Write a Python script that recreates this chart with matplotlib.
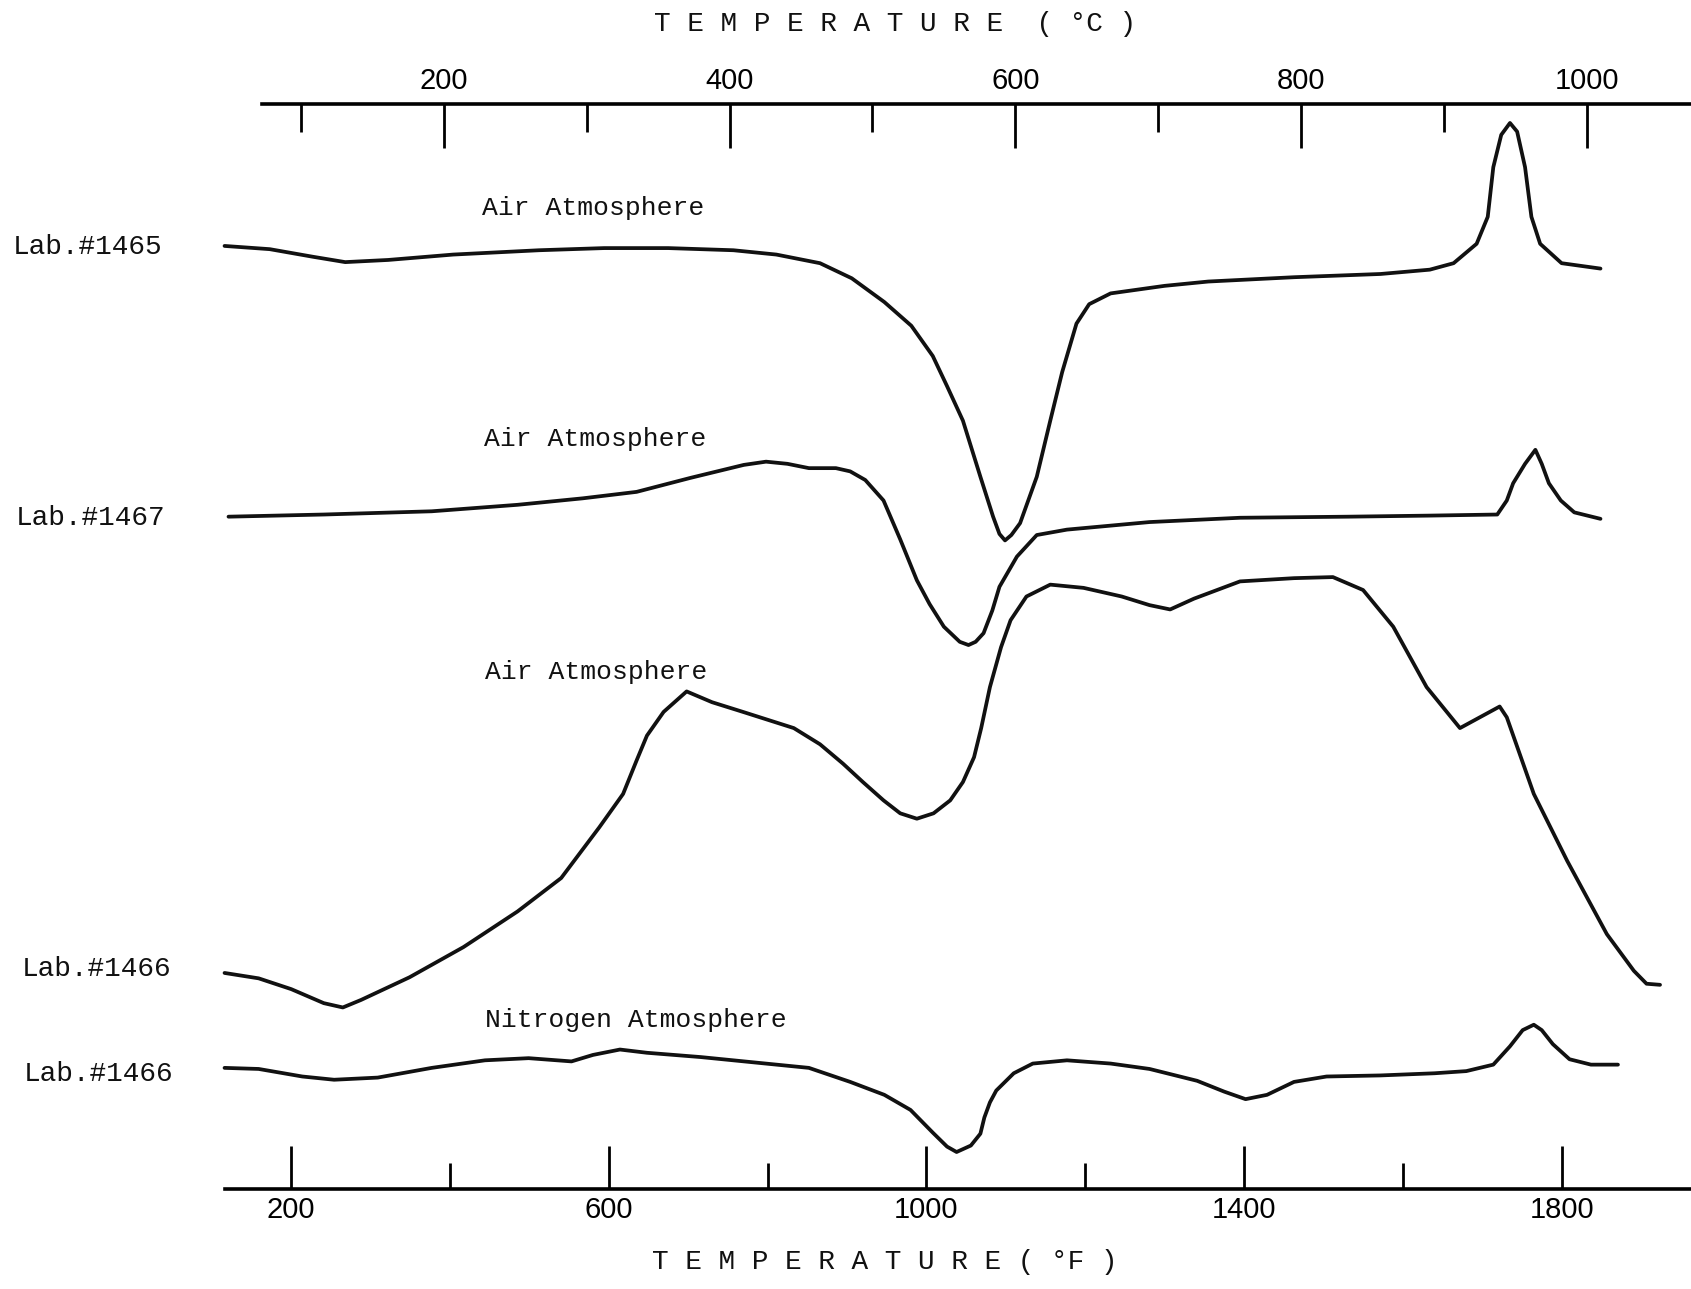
import numpy as np
import matplotlib
matplotlib.use("Agg")
from matplotlib import pyplot as plt

# DTA traces: furnace temperature in deg F, differential signal in chart units
# (positive = exothermic, upward)
temp_1465 = [116, 173, 227, 268, 322, 404, 512, 594, 675, 757,
             811, 866, 906, 947, 981, 1008, 1026, 1046, 1068, 1084,
             1092, 1099, 1107, 1118, 1139, 1156, 1171, 1189, 1205, 1232,
             1300, 1355, 1463, 1572, 1634, 1664, 1693, 1707, 1714, 1724,
             1735, 1744, 1754, 1762, 1773, 1800, 1849]
dta_1465 = [0, -3, -10, -15, -13, -8, -4, -2, -2, -4,
            -8, -16, -30, -52, -74, -102, -130, -162, -214, -251,
            -267, -273, -268, -257, -214, -162, -117, -72, -54, -44,
            -37, -33, -29, -26, -22, -16, 2, 27, 73, 103,
            114, 106, 73, 27, 2, -16, -21]

temp_1467 = [121, 241, 377, 485, 567, 635, 703, 770, 798, 825,
             852, 886, 904, 923, 946, 967, 988, 1004, 1022, 1042,
             1053, 1062, 1072, 1083, 1092, 1114, 1139, 1177, 1281, 1395,
             1531, 1634, 1719, 1731, 1739, 1754, 1767, 1775, 1784, 1799,
             1816, 1849]
dta_1467 = [0, 2, 5, 11, 17, 23, 36, 48, 51, 49,
            45, 45, 42, 34, 15, -21, -59, -81, -102, -116,
            -119, -116, -108, -87, -65, -37, -17, -12, -5, -1,
            0, 1, 2, 15, 31, 49, 62, 49, 31, 15,
            4, -2]

temp_1466_air = [116, 159, 200, 241, 265, 288, 349, 417, 485, 540,
                 588, 618, 635, 648, 669, 698, 730, 769, 833, 866,
                 895, 920, 946, 967, 988, 1009, 1030, 1046, 1060, 1069,
                 1080, 1094, 1106, 1126, 1156, 1198, 1246, 1281, 1307, 1337,
                 1395, 1463, 1512, 1550, 1588, 1630, 1672, 1697, 1722, 1731,
                 1765, 1807, 1857, 1891, 1907, 1924]
dta_1466_air = [0, -5, -15, -28, -32, -25, -4, 24, 57, 88,
                135, 166, 197, 220, 242, 261, 251, 242, 227, 212,
                194, 177, 160, 148, 143, 148, 160, 177, 200, 227,
                265, 302, 327, 349, 360, 357, 349, 341, 337, 347,
                363, 366, 367, 355, 321, 265, 227, 237, 247, 237,
                166, 104, 36, 2, -10, -11]

temp_1466_n2 = [116, 159, 214, 254, 309, 377, 444, 499, 553, 580,
                614, 648, 716, 784, 852, 904, 947, 980, 1008, 1026,
                1038, 1056, 1068, 1073, 1080, 1088, 1110, 1134, 1177, 1232,
                1281, 1341, 1375, 1402, 1429, 1463, 1504, 1572, 1640, 1680,
                1714, 1735, 1751, 1765, 1775, 1789, 1810, 1837, 1871]
dta_1466_n2 = [0, -1, -8, -11, -9, 0, 7, 9, 6, 12,
               17, 14, 10, 5, 0, -13, -25, -39, -60, -73,
               -78, -72, -61, -46, -32, -21, -5, 4, 7, 4,
               -1, -12, -22, -29, -25, -13, -8, -7, -5, -3,
               3, 20, 35, 40, 35, 22, 8, 3, 3]

sample_labels = ["Lab.#1465", "Lab.#1467", "Lab.#1466", "Lab.#1466"]
atmosphere_labels = ["Air Atmosphere", "Air Atmosphere", "Air Atmosphere",
                     "Nitrogen Atmosphere"]

f_ticks_major = [200, 600, 1000, 1400, 1800]
f_ticks_minor = [400, 800, 1200, 1600]
c_ticks_major = [200, 400, 600, 800, 1000]
c_ticks_minor = [100, 300, 500, 700, 900]


def f_to_c(f):
    return (np.asarray(f, dtype=float) - 32.0) / 1.8


def c_to_f(c):
    return np.asarray(c, dtype=float) * 1.8 + 32.0


# page layout grid (sheet units, origin top left)
W, H = 1568.0, 1195.0
baselines = [228, 479, 902, 990]
label_pos = [(12, 229), (15, 480), (20, 898), (22, 996)]
atm_pos = [(447, 193), (449, 407), (450, 623), (450, 946)]

mono = ["Liberation Mono", "DejaVu Sans Mono"]
ink = "#111111"

fig = plt.figure(figsize=(16.91, 12.89), dpi=100)
ax = fig.add_axes([0, 1 - 1102 / H, 1, (1102 - 96) / H])
ax.set_xlim(-166.8, 1963)
ax.set_ylim(-1102, -96)

traces = [(temp_1465, dta_1465), (temp_1467, dta_1467),
          (temp_1466_air, dta_1466_air), (temp_1466_n2, dta_1466_n2)]
for (t, d), base in zip(traces, baselines):
    ax.plot(t, np.asarray(d) - base, color=ink, lw=2.7,
            solid_joinstyle="round", solid_capstyle="round")

# bottom axis: deg F
for s in ["left", "right", "top"]:
    ax.spines[s].set_visible(False)
ax.spines["bottom"].set_bounds(116, 1963)
ax.spines["bottom"].set_linewidth(2.6)
ax.set_yticks([])
ax.set_xticks(f_ticks_major)
ax.set_xticks(f_ticks_minor, minor=True)
ax.tick_params(axis="x", which="major", direction="in", length=31, width=2,
               pad=5, labelsize=21)
ax.tick_params(axis="x", which="minor", direction="in", length=19, width=2)
for lab in ax.get_xticklabels():
    lab.set_fontfamily("Liberation Sans")

# top axis: deg C
sec = ax.secondary_xaxis("top", functions=(f_to_c, c_to_f))
sec.spines["top"].set_bounds(float(f_to_c(163)), float(f_to_c(1963)))
sec.spines["top"].set_linewidth(2.6)
sec.set_xticks(c_ticks_major)
sec.set_xticks(c_ticks_minor, minor=True)
sec.tick_params(axis="x", which="major", direction="in", length=32, width=2,
                pad=6, labelsize=21)
sec.tick_params(axis="x", which="minor", direction="in", length=20, width=2)
for lab in sec.get_xticklabels():
    lab.set_fontfamily("Liberation Sans")

fig.text(830 / W, 1 - 22 / H, "T E M P E R A T U R E  ( °C )", family=mono,
         fontsize=20, ha="center", va="center", color=ink)
fig.text(820 / W, 1 - 1170 / H, "T E M P E R A T U R E ( °F )", family=mono,
         fontsize=20, ha="center", va="center", color=ink)

for txt, (x, y) in zip(sample_labels, label_pos):
    fig.text(x / W, 1 - y / H, txt, family=mono, fontsize=20,
             ha="left", va="center", color=ink)
for txt, (x, y) in zip(atmosphere_labels, atm_pos):
    fig.text(x / W, 1 - y / H, txt, family=mono, fontsize=19,
             ha="left", va="center", color=ink)

fig.savefig("out.png", dpi=100, facecolor="white")
